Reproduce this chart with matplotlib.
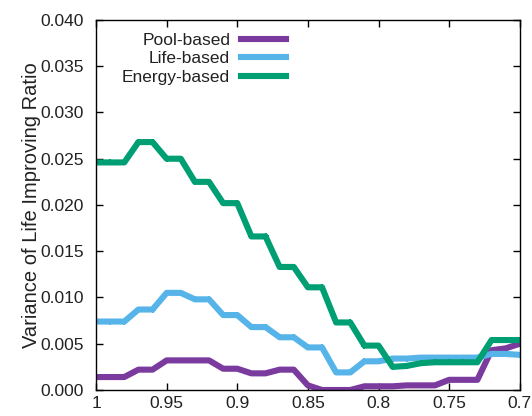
import matplotlib
matplotlib.use("Agg")
import matplotlib.pyplot as plt

# x values run from 1 down to 0.7 in steps of 0.01
ratio = [1.00, 0.99, 0.98, 0.97, 0.96, 0.95, 0.94, 0.93, 0.92, 0.91, 0.90,
         0.89, 0.88, 0.87, 0.86, 0.85, 0.84, 0.83, 0.82, 0.81, 0.80,
         0.79, 0.78, 0.77, 0.76, 0.75, 0.74, 0.73, 0.72, 0.71, 0.70]

pool_based = [0.0014, 0.0014, 0.0014, 0.0022, 0.0022, 0.0032, 0.0032, 0.0032, 0.0032, 0.0023, 0.0023,
              0.0018, 0.0018, 0.0022, 0.0022, 0.0005, 0.0000, 0.0000, 0.0000, 0.0004, 0.0004,
              0.0004, 0.0005, 0.0005, 0.0005, 0.0011, 0.0011, 0.0011, 0.0043, 0.0045, 0.0050]

life_based = [0.0074, 0.0074, 0.0074, 0.0087, 0.0087, 0.0105, 0.0105, 0.0098, 0.0098, 0.0081, 0.0081,
              0.0068, 0.0068, 0.0057, 0.0057, 0.0046, 0.0046, 0.0019, 0.0019, 0.0031, 0.0031,
              0.0034, 0.0034, 0.0035, 0.0035, 0.0035, 0.0035, 0.0035, 0.0039, 0.0039, 0.0038]

energy_based = [0.0246, 0.0246, 0.0246, 0.0268, 0.0268, 0.0250, 0.0250, 0.0225, 0.0225, 0.0202, 0.0202,
                0.0166, 0.0166, 0.0133, 0.0133, 0.0111, 0.0111, 0.0073, 0.0073, 0.0048, 0.0048,
                0.0025, 0.0026, 0.0029, 0.0030, 0.0030, 0.0030, 0.0030, 0.0054, 0.0054, 0.0054]

xtick_labels = ['1', '0.95', '0.9', '0.85', '0.8', '0.75', '0.7']
ytick_vals = [0.000, 0.005, 0.010, 0.015, 0.020, 0.025, 0.030, 0.035, 0.040]

plt.rcParams['font.family'] = ['Liberation Sans', 'DejaVu Sans']
plt.rcParams['font.size'] = 12.5
txt = '#222222'

fig = plt.figure(figsize=(5.32, 4.16), dpi=100)
ax = fig.add_axes([0.1805, 0.0625, 0.7965, 0.8895])

ax.plot(ratio, pool_based, color='#7b3a9e', lw=4.4, label='Pool-based')
ax.plot(ratio, life_based, color='#56b4e9', lw=4.4, marker='+', ms=5, mew=1.5, label='Life-based')
ax.plot(ratio, energy_based, color='#009e73', lw=4.4, marker='+', ms=5, mew=1.5, label='Energy-based')

ax.set_xlim(1, 0.7)
ax.set_ylim(0, 0.040)
ax.set_xticks([float(t) for t in xtick_labels])
ax.set_xticklabels(xtick_labels)
ax.set_yticks(ytick_vals)
ax.set_yticklabels(['%.3f' % v for v in ytick_vals])
ax.tick_params(direction='in', top=True, right=True, length=5, width=1,
               labelsize=12.5, labelcolor=txt)
ax.tick_params(axis='x', pad=4.5)
ax.tick_params(axis='y', pad=9)
for s in ax.spines.values():
    s.set_linewidth(1)

ax.set_ylabel('Variance of Life Improving Ratio', fontsize=14.5, color=txt, labelpad=-1)

ax.legend(loc='upper left', bbox_to_anchor=(0.045, 0.985), frameon=False, markerfirst=False,
          borderaxespad=0, handlelength=2.6, handletextpad=0.6, labelspacing=0.2,
          fontsize=12.5, labelcolor=txt)

fig.savefig('out.png', dpi=100)
